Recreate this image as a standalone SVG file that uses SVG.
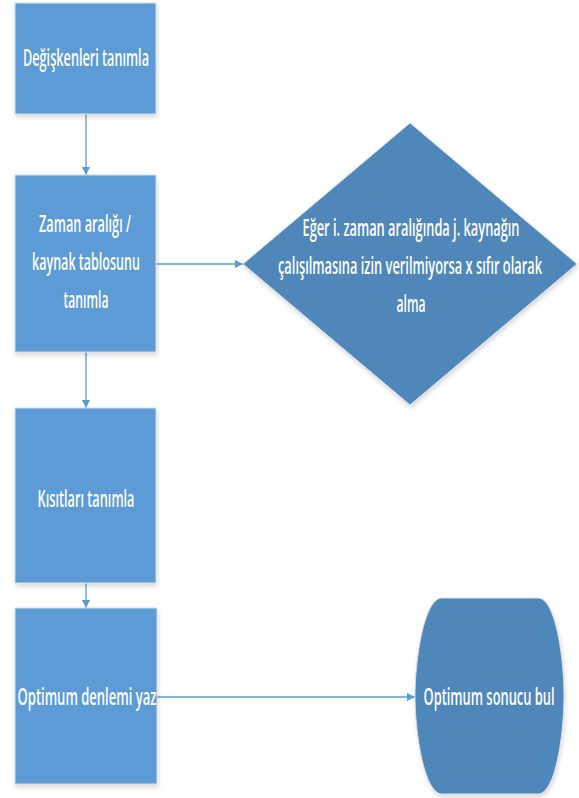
<svg xmlns="http://www.w3.org/2000/svg" width="579" height="798" viewBox="0 0 579 798">
  <defs>
    <marker id="arr" markerWidth="10" markerHeight="10" refX="9" refY="5" orient="auto" markerUnits="userSpaceOnUse">
      <path d="M1,1 L9,5 L1,9 Z" fill="#5B9BD5"/>
    </marker>
    <filter id="sh" x="-10%" y="-10%" width="120%" height="120%">
      <feDropShadow dx="1" dy="3" stdDeviation="2" flood-color="#000" flood-opacity="0.15"/>
    </filter>
  </defs>
  <style>
    .box { fill: #5B9BD5; stroke: #D6DEE8; stroke-width: 1; filter: url(#sh); }
    .dark { fill: #4F87BA; stroke: #D6DEE8; stroke-width: 1; filter: url(#sh); }
    .t { font-family: "Open Sans", "Liberation Sans", sans-serif; font-weight: 600; font-size: 22.5px; fill: #FFFFFF; text-anchor: middle; }
    .c { stroke: #5B9BD5; stroke-width: 1.3; fill: none; marker-end: url(#arr); }
  </style>

  <g id="connectors">
    <line class="c" x1="86" y1="114" x2="86" y2="175"/>
    <line class="c" x1="156" y1="264" x2="243" y2="264"/>
    <line class="c" x1="86" y1="352" x2="86" y2="408"/>
    <line class="c" x1="86" y1="583" x2="86" y2="608"/>
    <line class="c" x1="157" y1="697" x2="415" y2="697"/>
  </g>

  <g id="n1">
    <rect class="box" x="15" y="3" width="141" height="111"/>
    <text class="t" x="86" y="66" textLength="126" lengthAdjust="spacingAndGlyphs">Değişkenleri tanımla</text>
  </g>

  <g id="n2">
    <rect class="box" x="15" y="175" width="141" height="177"/>
    <text class="t" x="85" y="232" textLength="92" lengthAdjust="spacingAndGlyphs">Zaman aralığı /</text>
    <text class="t" x="86" y="270" textLength="108" lengthAdjust="spacingAndGlyphs">kaynak tablosunu</text>
    <text class="t" x="86" y="308" textLength="45" lengthAdjust="spacingAndGlyphs">tanımla</text>
  </g>

  <g id="n3">
    <polygon class="dark" points="410,123 577,264 410,405 243,264"/>
    <text class="t" x="411" y="236" textLength="217" lengthAdjust="spacingAndGlyphs">Eğer i. zaman aralığında j. kaynağın</text>
    <text class="t" x="410" y="274" textLength="264" lengthAdjust="spacingAndGlyphs">çalışılmasına izin verilmiyorsa x sıfır olarak</text>
    <text class="t" x="411" y="312" textLength="29" lengthAdjust="spacingAndGlyphs">alma</text>
  </g>

  <g id="n4">
    <rect class="box" x="15" y="408" width="141" height="175"/>
    <text class="t" x="86" y="507" textLength="97" lengthAdjust="spacingAndGlyphs">Kısıtları tanımla</text>
  </g>

  <g id="n5">
    <rect class="box" x="15" y="608" width="142" height="176"/>
    <text class="t" x="87" y="705" textLength="139" lengthAdjust="spacingAndGlyphs">Optimum denlemi yaz</text>
  </g>

  <g id="n6">
    <path class="dark" d="M442,598 H538 C556,598 564,660 564,696 C564,732 556,794 538,794 H442 C424,794 415,732 415,696 C415,660 424,598 442,598 Z"/>
    <text class="t" x="489" y="705" textLength="131" lengthAdjust="spacingAndGlyphs">Optimum sonucu bul</text>
  </g>
</svg>
